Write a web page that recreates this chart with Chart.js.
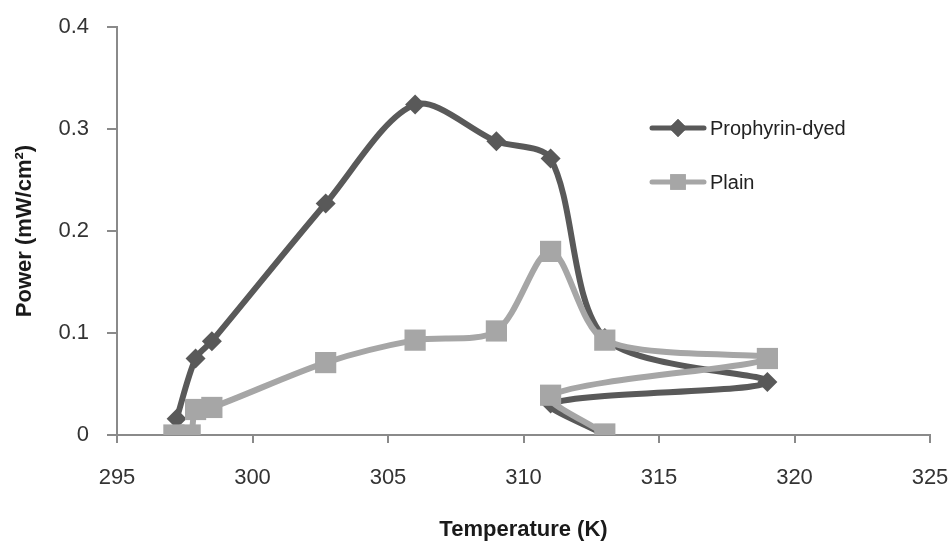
<!DOCTYPE html>
<html>
<head>
<meta charset="utf-8">
<script src="https://cdn.jsdelivr.net/npm/chart.js@4"></script>
<style>
  html, body { margin: 0; padding: 0; background: #fff; }
  #wrap { width: 952px; height: 545px; position: relative; }
</style>
</head>
<body>
<div id="wrap"><canvas id="grafico"></canvas></div>
<script>
// valores
const seriesNames = ['Prophyrin-dyed', 'Plain'];
const tempDyed = [297.2, 297.9, 298.5, 302.7, 306.0, 309.0, 311.0, 313.0, 319.0, 311.0, 313.0];
const powerDyed = [0.016, 0.075, 0.092, 0.227, 0.324, 0.288, 0.271, 0.095, 0.052, 0.031, 0.0];
const tempPlain = [297.1, 297.7, 297.9, 298.5, 302.7, 306.0, 309.0, 311.0, 313.0, 319.0, 311.0, 313.0];
const powerPlain = [0.0, 0.0, 0.025, 0.027, 0.071, 0.093, 0.102, 0.180, 0.093, 0.075, 0.039, 0.001];

const darkColor = '#595959';
const lightColor = '#a6a6a6';
const fontFam = '"Liberation Sans", Arial, sans-serif';

// leyenda a la derecha, linea con marcador como en Excel
const legendPlugin = {
    id: 'leyendaLinea',
    afterDraw(chart) {
        const ctx = chart.ctx;
        const items = [
            { name: seriesNames[0], color: darkColor, style: 'rectRot', r: 9, y: 128 },
            { name: seriesNames[1], color: lightColor, style: 'rect', r: 11, y: 182 }
        ];
        ctx.save();
        items.forEach(it => {
            ctx.strokeStyle = it.color;
            ctx.lineWidth = 5;
            ctx.lineCap = 'round';
            ctx.beginPath();
            ctx.moveTo(652, it.y);
            ctx.lineTo(704, it.y);
            ctx.stroke();
            ctx.fillStyle = it.color;
            Chart.helpers.drawPoint(ctx, { pointStyle: it.style, radius: it.r, borderWidth: 0 }, 678, it.y);
            ctx.fill();
            ctx.fillStyle = '#222';
            ctx.font = '20px ' + fontFam;
            ctx.textBaseline = 'middle';
            ctx.fillText(it.name, 710, it.y + 1);
        });
        ctx.restore();
    }
};

const ctx = document.getElementById('grafico').getContext('2d');
new Chart(ctx, {
    type: 'scatter',
    data: {
        datasets: [
            {
                label: seriesNames[0],
                data: tempDyed.map((t, i) => ({ x: t, y: powerDyed[i] })),
                showLine: true,
                borderColor: darkColor,
                backgroundColor: darkColor,
                borderWidth: 6,
                tension: 0.3,
                pointStyle: 'rectRot',
                pointRadius: 10,
                pointBorderWidth: 0,
                order: 2
            },
            {
                label: seriesNames[1],
                data: tempPlain.map((t, i) => ({ x: t, y: powerPlain[i] })),
                showLine: true,
                borderColor: lightColor,
                backgroundColor: lightColor,
                borderWidth: 6,
                tension: 0.3,
                pointStyle: 'rect',
                pointRadius: 15,
                pointBorderWidth: 0,
                order: 1
            }
        ]
    },
    options: {
        responsive: true,
        maintainAspectRatio: false,
        animation: false,
        layout: { padding: { top: 27, right: 22, left: 0, bottom: 0 } },
        plugins: {
            legend: { display: false },
            tooltip: { enabled: false }
        },
        scales: {
            x: {
                type: 'linear',
                min: 295,
                max: 325,
                afterFit: s => { s.height = 110; s.paddingLeft = 0; s.paddingRight = 0; },
                border: { color: '#8a8a8a', width: 2 },
                grid: { drawOnChartArea: false, drawTicks: true, tickLength: 8, color: '#8a8a8a', lineWidth: 2 },
                ticks: { stepSize: 5, color: '#333', font: { size: 22, family: fontFam }, padding: 22 },
                title: {
                    display: true,
                    text: 'Temperature (K)',
                    color: '#1a1a1a',
                    font: { size: 22, weight: 'bold', family: fontFam },
                    padding: { top: 0, bottom: 2 }
                }
            },
            y: {
                min: 0,
                max: 0.4,
                afterFit: s => { s.width = 117; s.paddingTop = 0; s.paddingBottom = 0; },
                border: { color: '#8a8a8a', width: 2 },
                grid: { drawOnChartArea: false, drawTicks: true, tickLength: 10, color: '#8a8a8a', lineWidth: 2 },
                ticks: { stepSize: 0.1, color: '#333', font: { size: 22, family: fontFam }, padding: 18 },
                title: {
                    display: true,
                    text: 'Power (mW/cm²)',
                    color: '#1a1a1a',
                    font: { size: 22, weight: 'bold', family: fontFam },
                    padding: { top: 12, bottom: 0 }
                }
            }
        }
    },
    plugins: [legendPlugin]
});
</script>
</body>
</html>
